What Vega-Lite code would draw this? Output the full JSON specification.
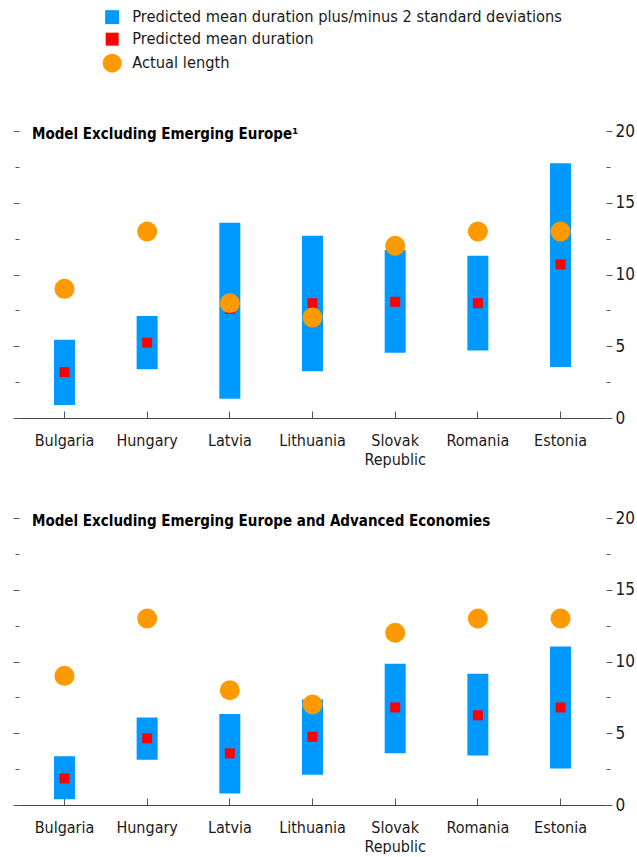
{
  "$schema": "https://vega.github.io/schema/vega-lite/v6.json",
  "padding": {"left": 12, "top": 9, "right": 0, "bottom": 0},
  "autosize": {"type": "pad"},
  "spacing": 42,
  "config": {
    "view": {"stroke": null},
    "font": "DejaVu Sans Condensed, Liberation Sans, sans-serif",
    "axis": {"grid": false, "labelFont": "DejaVu Sans Condensed, Liberation Sans, sans-serif", "labelColor": "#1a1a1a", "tickColor": "#555555", "domainColor": "#444444"},
    "legend": {"orient": "none", "legendX": 85, "legendY": -122, "title": null, "labelFontSize": 16.3, "labelFont": "DejaVu Sans Condensed, Liberation Sans, sans-serif", "labelColor": "#1a1a1a", "labelLimit": 0, "rowPadding": 5, "labelOffset": 12, "padding": 0, "symbolOpacity": 1, "symbolStrokeWidth": 0}
  },
  "data": {"values": [
    {"panel": "A", "country": "Bulgaria", "lo": 0.9, "hi": 5.45, "mean": 3.2, "actual": 9},
    {"panel": "A", "country": "Hungary", "lo": 3.4, "hi": 7.1, "mean": 5.25, "actual": 13},
    {"panel": "A", "country": "Latvia", "lo": 1.35, "hi": 13.6, "mean": 7.6, "actual": 8},
    {"panel": "A", "country": "Lithuania", "lo": 3.25, "hi": 12.7, "mean": 8.0, "actual": 7},
    {"panel": "A", "country": "Slovak Republic", "lo": 4.55, "hi": 11.7, "mean": 8.1, "actual": 12},
    {"panel": "A", "country": "Romania", "lo": 4.7, "hi": 11.3, "mean": 8.0, "actual": 13},
    {"panel": "A", "country": "Estonia", "lo": 3.55, "hi": 17.75, "mean": 10.7, "actual": 13},
    {"panel": "B", "country": "Bulgaria", "lo": 0.4, "hi": 3.4, "mean": 1.85, "actual": 9},
    {"panel": "B", "country": "Hungary", "lo": 3.15, "hi": 6.1, "mean": 4.65, "actual": 13},
    {"panel": "B", "country": "Latvia", "lo": 0.8, "hi": 6.35, "mean": 3.6, "actual": 8},
    {"panel": "B", "country": "Lithuania", "lo": 2.1, "hi": 7.35, "mean": 4.75, "actual": 7},
    {"panel": "B", "country": "Slovak Republic", "lo": 3.6, "hi": 9.85, "mean": 6.8, "actual": 12},
    {"panel": "B", "country": "Romania", "lo": 3.45, "hi": 9.15, "mean": 6.25, "actual": 13},
    {"panel": "B", "country": "Estonia", "lo": 2.55, "hi": 11.05, "mean": 6.8, "actual": 13}
  ]},
  "vconcat": [
    {
      "width": 587, "height": 287,
      "title": {"text": "Model Excluding Emerging Europe¹", "anchor": "start", "frame": "group", "dx": 13, "dy": 0, "offset": -32, "baseline": "alphabetic", "fontSize": 15, "fontWeight": "bold", "font": "DejaVu Sans Condensed, Liberation Sans, sans-serif", "color": "#000000"},
      "transform": [{"filter": "datum.panel === 'A'"}],
      "encoding": {
        "x": {"field": "country", "type": "nominal", "sort": null, "title": null,
          "scale": {"paddingInner": 0, "paddingOuter": 0.05},
          "axis": {"labelAngle": 0, "labelFontSize": 16, "labelExpr": "split(datum.label, ' ')", "labelLineHeight": 19, "labelBaseline": "top", "tickSize": -7, "labelPadding": 21, "domainWidth": 1}}
      },
      "layer": [
        {"mark": {"type": "bar", "size": 21},
         "encoding": {
           "y": {"field": "lo", "type": "quantitative", "scale": {"domain": [0, 20], "nice": false},
             "axis": {"orient": "left", "title": null, "values": [0, 2.5, 5, 7.5, 10, 12.5, 15, 17.5, 20], "labels": false, "domain": false, "tickSize": {"condition": {"test": "datum.value % 5 === 0", "value": 6}, "value": 4}}},
           "y2": {"field": "hi"},
           "color": {"datum": "Predicted mean duration plus/minus 2 standard deviations", "type": "nominal",
             "scale": {"domain": ["Predicted mean duration plus/minus 2 standard deviations", "Predicted mean duration", "Actual length"], "range": ["#0099ff", "#ff0000", "#ff9900"]},
             "legend": {"encode": {"symbols": {"update": {"size": {"signal": "datum.value === 'Actual length' ? 361 : (datum.value === 'Predicted mean duration' ? 169 : 196)"}}}}}}
         }},
        {"mark": {"type": "point", "filled": true, "size": 100, "opacity": 1},
         "encoding": {
           "y": {"field": "mean", "type": "quantitative",
             "axis": {"orient": "right", "title": null, "values": [0, 2.5, 5, 7.5, 10, 12.5, 15, 17.5, 20], "labelExpr": "datum.value % 5 === 0 ? datum.label : ''", "labelFontSize": 17, "labelPadding": 3, "domain": false, "tickSize": {"condition": {"test": "datum.value % 5 === 0", "value": 6}, "value": 4}}},
           "color": {"datum": "Predicted mean duration", "type": "nominal"},
           "shape": {"datum": "Predicted mean duration", "type": "nominal",
             "scale": {"domain": ["Predicted mean duration plus/minus 2 standard deviations", "Predicted mean duration", "Actual length"], "range": ["square", "square", "circle"]}}
         }},
        {"mark": {"type": "point", "filled": true, "size": 400, "opacity": 1},
         "encoding": {
           "y": {"field": "actual", "type": "quantitative", "axis": null},
           "color": {"datum": "Actual length", "type": "nominal"},
           "shape": {"datum": "Actual length", "type": "nominal"}
         }}
      ],
      "resolve": {"axis": {"y": "independent"}}
    },
    {
      "width": 587, "height": 287,
      "title": {"text": "Model Excluding Emerging Europe and Advanced Economies", "anchor": "start", "frame": "group", "dx": 13, "dy": 0, "offset": -32, "baseline": "alphabetic", "fontSize": 15, "fontWeight": "bold", "font": "DejaVu Sans Condensed, Liberation Sans, sans-serif", "color": "#000000"},
      "transform": [{"filter": "datum.panel === 'B'"}],
      "encoding": {
        "x": {"field": "country", "type": "nominal", "sort": null, "title": null,
          "scale": {"paddingInner": 0, "paddingOuter": 0.05},
          "axis": {"labelAngle": 0, "labelFontSize": 16, "labelExpr": "split(datum.label, ' ')", "labelLineHeight": 19, "labelBaseline": "top", "tickSize": -7, "labelPadding": 21, "domainWidth": 1}}
      },
      "layer": [
        {"mark": {"type": "bar", "size": 21},
         "encoding": {
           "y": {"field": "lo", "type": "quantitative", "scale": {"domain": [0, 20], "nice": false},
             "axis": {"orient": "left", "title": null, "values": [0, 2.5, 5, 7.5, 10, 12.5, 15, 17.5, 20], "labels": false, "domain": false, "tickSize": {"condition": {"test": "datum.value % 5 === 0", "value": 6}, "value": 4}}},
           "y2": {"field": "hi"},
           "color": {"datum": "Predicted mean duration plus/minus 2 standard deviations", "type": "nominal"}
         }},
        {"mark": {"type": "point", "filled": true, "size": 100, "opacity": 1},
         "encoding": {
           "y": {"field": "mean", "type": "quantitative",
             "axis": {"orient": "right", "title": null, "values": [0, 2.5, 5, 7.5, 10, 12.5, 15, 17.5, 20], "labelExpr": "datum.value % 5 === 0 ? datum.label : ''", "labelFontSize": 17, "labelPadding": 3, "domain": false, "tickSize": {"condition": {"test": "datum.value % 5 === 0", "value": 6}, "value": 4}}},
           "color": {"datum": "Predicted mean duration", "type": "nominal"},
           "shape": {"datum": "Predicted mean duration", "type": "nominal"}
         }},
        {"mark": {"type": "point", "filled": true, "size": 400, "opacity": 1},
         "encoding": {
           "y": {"field": "actual", "type": "quantitative", "axis": null},
           "color": {"datum": "Actual length", "type": "nominal"},
           "shape": {"datum": "Actual length", "type": "nominal"}
         }}
      ],
      "resolve": {"axis": {"y": "independent"}}
    }
  ]
}
